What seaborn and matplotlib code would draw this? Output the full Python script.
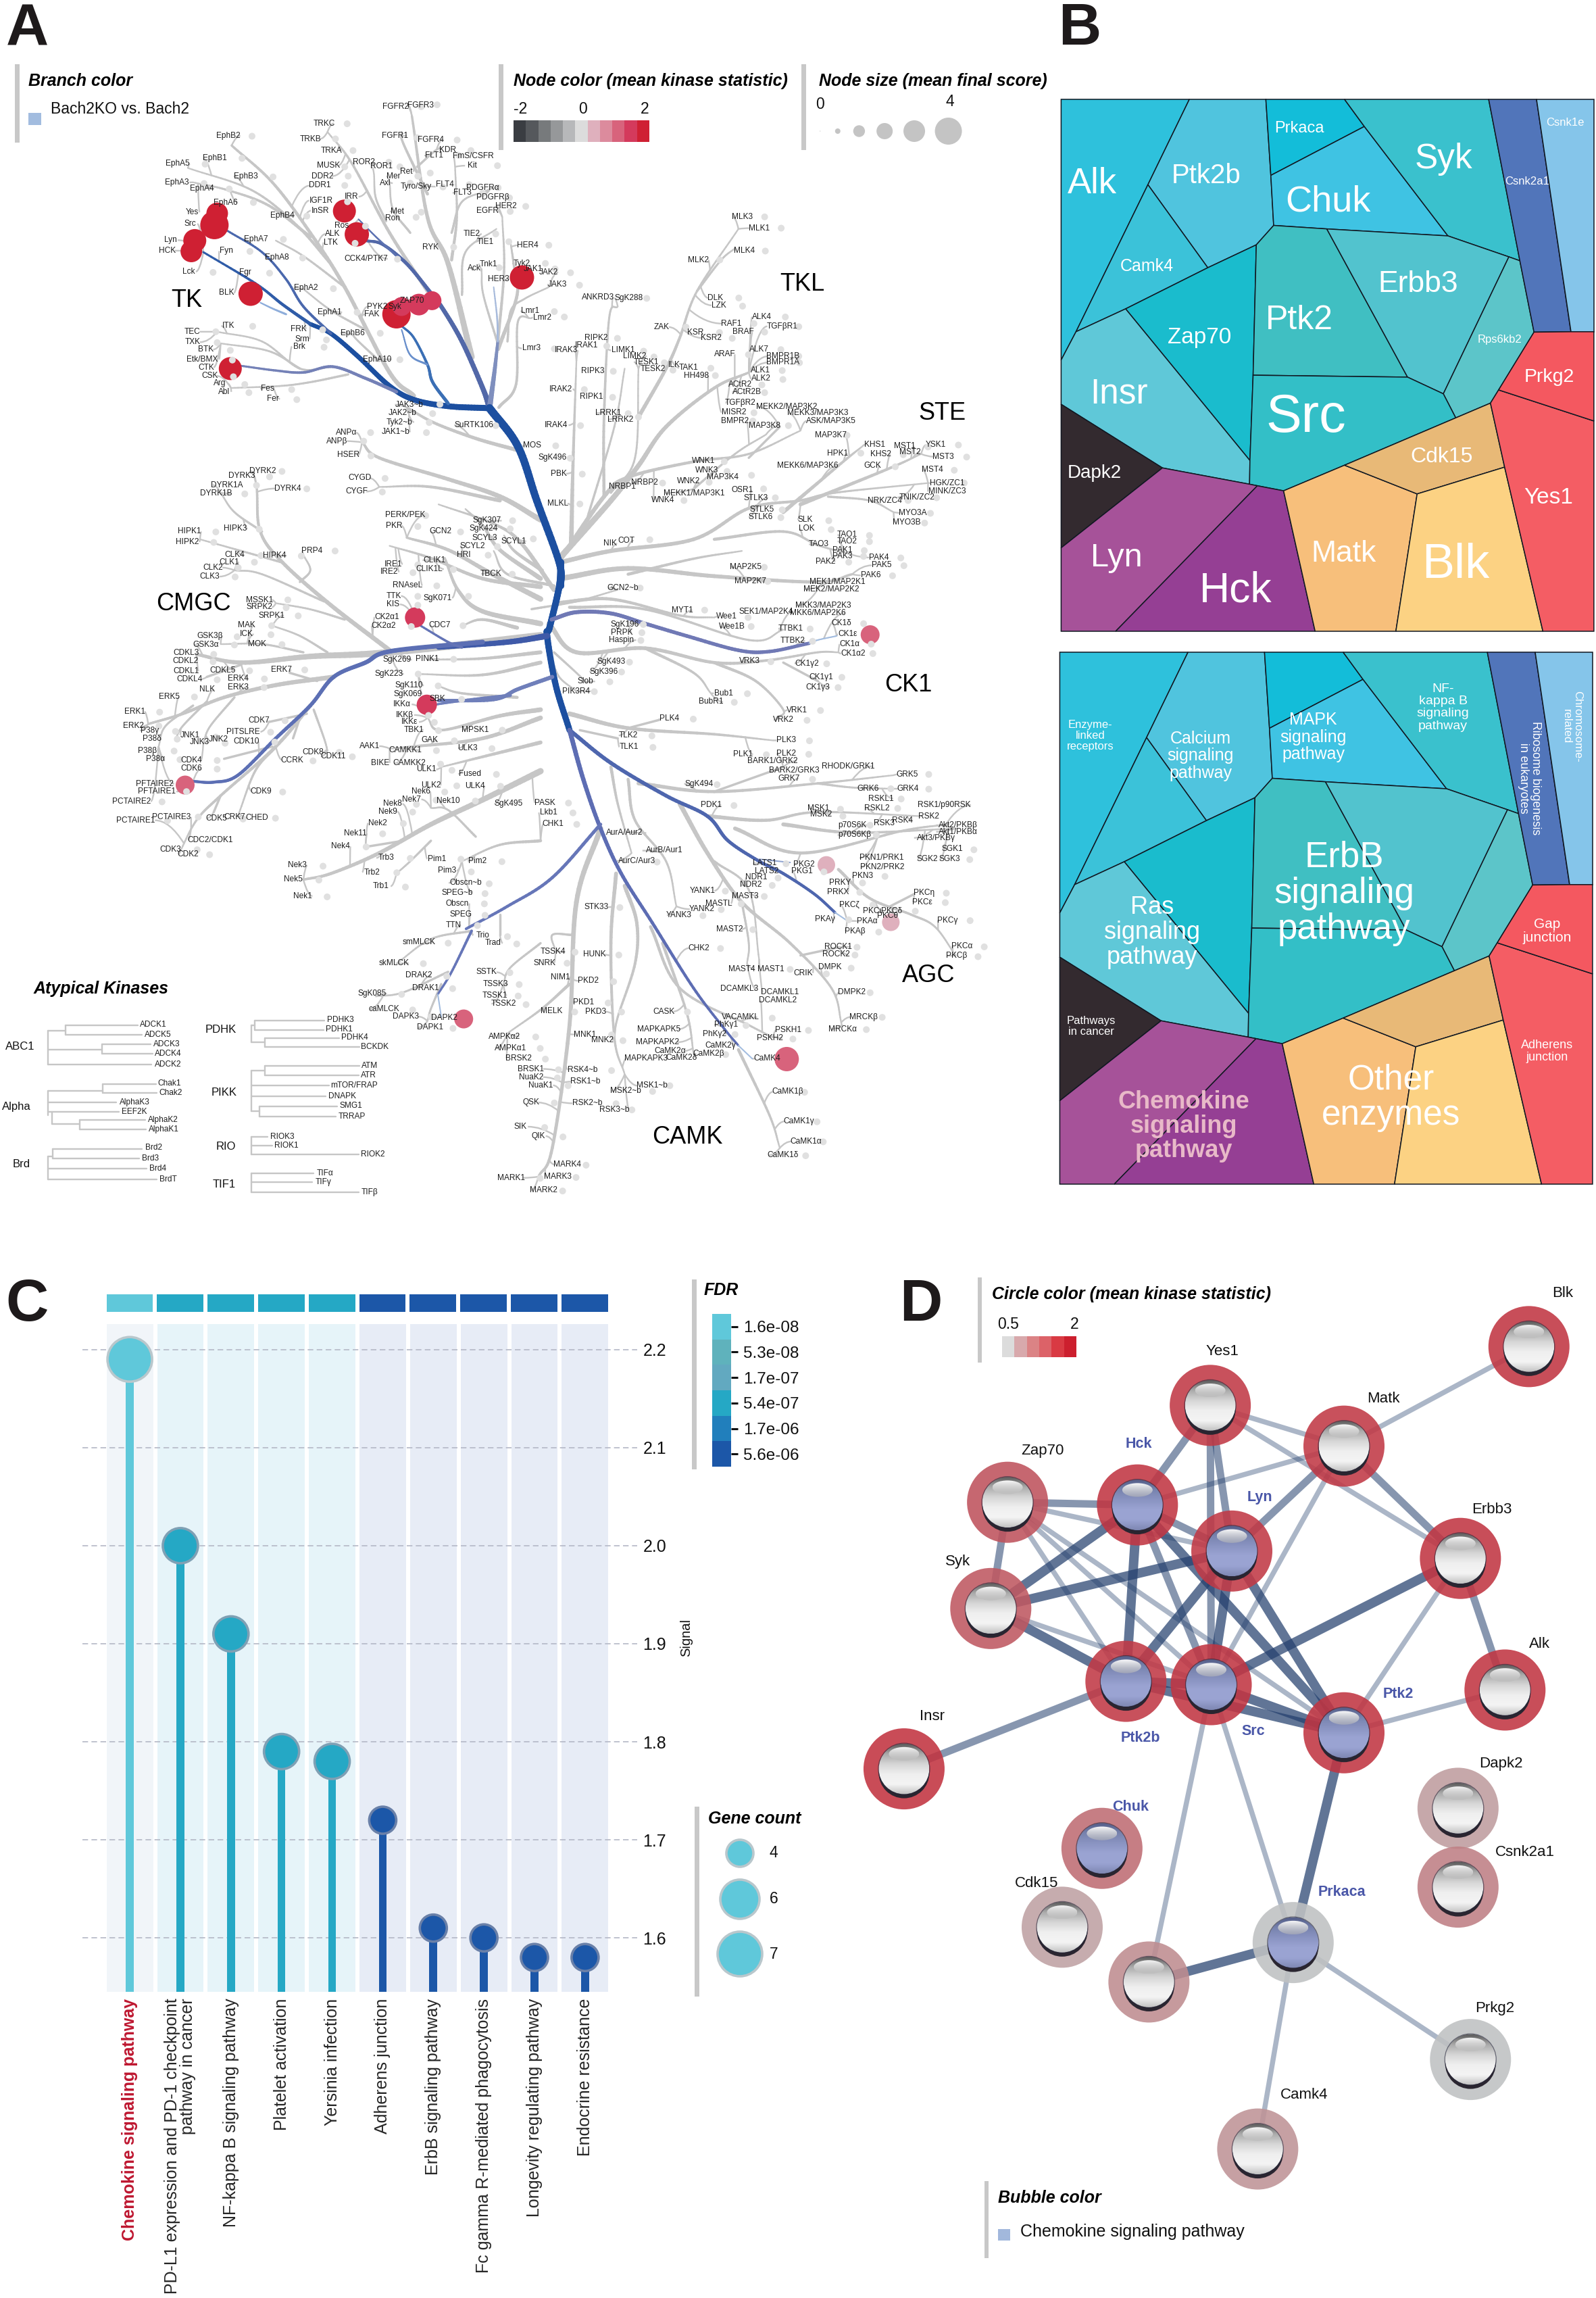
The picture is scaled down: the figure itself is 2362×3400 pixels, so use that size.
import numpy as np
import pandas as pd
import seaborn as sns
from matplotlib import pyplot as plt
from matplotlib.collections import LineCollection
from matplotlib.colors import ListedColormap, LinearSegmentedColormap
from matplotlib.patches import Circle, Ellipse, PathPatch, Rectangle
from matplotlib.path import Path

W, H = 2362, 3400

FRAMES = {"a": (0, 0, 1.96, 1.742), "b": (700, 0, 1.96, 1.742),
          "c": (0, 850, 1.96, 1.65), "d": (700, 850, 1.96, 1.65)}

KIN_A = [("FGFR2",1148,276,1222,275),("FGFR3",1220,272,1268,270),("TRKC",940,318,1007,319),("TRKB",900,358,973,358),
 ("TRKA",961,388,1024,388),("MUSK",952,427,1000,430),("DDR2",935,454,1010,454),("DDR1",928,478,1000,478),
 ("EphB2",662,350,731,351),("EphB1",624,408,702,408),("EphA5",516,422,595,423),("EphB3",713,454,792,456),
 ("EphA3",514,470,592,473),("EphA4",585,486,665,487),("EphA6",654,522,735,522),("EphB4",820,555,890,557),
 ("Yes",558,547),("Src",551,577),("Lyn",494,619),("HCK",486,646),("Fyn",657,647,725,648),("EphA7",743,617,822,617),
 ("EphA8",804,664,878,665),("Lck",547,700,618,702),("Fgr",712,702,782,704),("BLK",657,755),("EphA2",887,742,967,744),
 ("EphA1",957,805,1036,805),("ITK",663,840,733,841),("TEC",558,855,626,855),("TXK",559,882,630,883),("BTK",597,901,668,903),
 ("Etk/BMX",586,926,674,928),("CTK",598,947),("CSK",608,969,677,971),("FRK",867,848,936,850),("Srm",877,874,947,876),
 ("Brk",868,893,940,895),("EphB6",1023,858,1103,859),("EphA10",1093,926,1160,927),("Arg",638,988,710,991),("Abl",650,1010,722,1012),
 ("Fes",776,1002,846,1004),("Fer",791,1028,861,1030),("FGFR1",1145,350,1210,355),("FGFR4",1249,360,1326,361),("KDR",1298,387,1366,388),
 ("FLT1",1259,401,1330,400),("FmS/CSFR",1372,403),("Kit",1370,427,1443,427),("ROR2",1055,418,1128,418),("ROR1",1107,429,1160,430),
 ("Ret",1178,443,1248,446),("Mer",1142,454,1212,454),("Axl",1118,472,1190,472),("Tyro/Sky",1207,481,1285,482),("FLT4",1291,475,1361,476),
 ("FLT3",1341,497,1400,498),("PDGFRα",1400,484,1445,484),("PDGFRβ",1430,508,1478,510),("EGFR",1415,543,1480,545),("HER2",1468,532,1525,532),
 ("IGF1R",932,517),("InSR",930,543),("IRR",1019,507,1008,520),("Met",1152,545,1222,547),("Ron",1138,562,1207,560),("Ros",990,582,1060,583),
 ("ALK",965,603),("LTK",960,625,1030,627),("CCK4/PTK7",1061,667,1153,668),("RYK",1249,637,1316,637),("TIE2",1369,603,1438,603),
 ("TIE1",1408,623,1476,623),("Ack",1376,692,1448,690),("Tnk1",1416,681),("PYK2",1095,790),("Syk",1145,790),("ZAP70",1195,775),("FAK",1079,810),
 ("JAK3~b",1188,1043,1276,1042),("JAK2~b",1168,1065,1255,1066),("Tyk2~b",1159,1088,1245,1089),("JAK1~b",1147,1114,1237,1115),
 ("SuRTK106",1374,1096,1438,1097),("ANPα",1005,1115,1075,1115),("ANPβ",978,1137,1055,1137),("HSER",1010,1173,1076,1175),("CYGD",1043,1232,1117,1233),
 ("CYGF",1034,1267,1109,1268),("DYRK2",763,1214,818,1215),("DYRK3",702,1227,782,1229),("DYRK1A",659,1250,744,1251),("DYRK1B",627,1272,710,1273),
 ("DYRK4",834,1259,890,1260),("HIPK1",549,1370,626,1371),("HIPK3",683,1363,752,1364),("HIPK2",543,1397,620,1398),("CLK4",680,1431,757,1432),
 ("HIPK4",796,1432,874,1433),("PRP4",904,1420,972,1420),("CLK1",665,1449,738,1449),("CLK2",617,1463,691,1463),("CLK3",609,1486,682,1487),
 ("PERK/PEK",1175,1328,1235,1329),("PKR",1143,1355,1212,1357),("GCN2",1277,1370,1336,1371),("SgK307",1413,1342,1487,1342),("SgK424",1402,1362,1480,1363),
 ("SCYL3",1405,1386),("SCYL2",1370,1407,1443,1409),("SCYL1",1491,1395,1547,1389),("HRI",1346,1430,1416,1431),("IRE1",1140,1454,1212,1456),
 ("IRE2",1130,1474,1198,1476),("CLIK1",1261,1444),("CLIK1L",1245,1467,1315,1468),("TBCK",1424,1479,1486,1480),("RNAseL",1183,1509,1267,1510),
 ("TTK",1142,1536,1212,1537),("SgK071",1269,1541,1359,1537)]

KIN_B = [("HER4",158,632,220,632),("Tyk2",142,679,210,679),("JAK1",175,693,238,693),("JAK2",219,702,283,703),("JAK3",244,733,309,735),("HER3",74,719),
 ("MOS",171,1148,240,1149),("SgK496",230,1180,282,1181),("PBK",249,1221,317,1222),("MLKL",246,1298,310,1299),("ANKRD3",363,767),("SgK288",452,768,504,769),
 ("Lmr1",166,802,236,803),("Lmr2",202,818,265,817),("Lmr3",170,898,236,899),("RIPK2",358,871,419,872),("IRAK3",270,903),("IRAK1",329,890,388,892),
 ("LIMK1",436,903,495,905),("LIMK2",469,918,525,920),("TESK1",502,933,555,935),("TESK2",523,952,580,954),("ILK",584,941),("TAK1",626,948,690,949),
 ("HH498",647,968,703,968),("MLK3",782,559,846,559),("MLK1",831,588,894,588),("MLK4",787,646,848,647),("MLK2",654,670,716,670),("DLK",703,768,771,768),
 ("LZK",713,787,782,789),("ALK4",838,817,906,817),("RAF1",750,834,815,834),("TGFβR1",896,841,945,842),("ZAK",547,843,618,843),("KSR",646,857,715,857),
 ("BRAF",783,856,846,856),("KSR2",691,871,752,872),("ALK7",830,900,893,901),("ARAF",731,913,799,914),("BMPR1B",899,918,945,918),("BMPR1A",899,934,947,935),
 ("ALK1",833,954,897,955),("ALK2",836,976,899,978),("ACtR2",776,991,838,992),("ACtR2B",794,1011,846,1012),("RIPK3",348,956,407,957),("IRAK2",254,1003,323,1004),
 ("RIPK1",343,1023,405,1024),("TGFβR2",775,1039),("MISR2",757,1063,815,1064),("MEKK2/MAP3K2",909,1048),("MEKK3/MAP3K3",1000,1065),("LRRK1",392,1065,450,1066),
 ("LRRK2",428,1081,480,1075),("BMPR2",759,1085,812,1085),("ASK/MAP3K5",1038,1085),("MAP3K8",846,1097,915,1097),("IRAK4",242,1096,312,1097),("MAP3K7",1037,1121,1085,1122),
 ("KHS1",1165,1146),("MST1",1252,1150,1320,1152),("YSK1",1342,1147,1408,1147),("KHS2",1183,1170,1248,1172),("HPK1",1058,1169,1125,1168),("MST2",1268,1166),
 ("MST3",1364,1177,1432,1178),("GCK",1158,1201,1225,1203),("MEKK6/MAP3K6",971,1201),("WNK1",669,1188,729,1190),("WNK3",678,1213,737,1215),("MST4",1332,1210,1396,1212),
 ("MAP3K4",724,1229,808,1225),("HGK/ZC1",1376,1245,1425,1245),("WNK2",626,1241,685,1243),("NRBP2",498,1244,550,1245),("MINK/ZC3",1376,1267),("NRBP1",434,1255),
 ("OSR1",781,1263,843,1260),("STLK3",821,1283,877,1283),("TNIK/ZC2",1288,1282,1345,1283),("NRK/ZC4",1195,1290,1262,1290),("WNK4",552,1289,612,1290),("MEKK1/MAP3K1",642,1271),
 ("STLK5",839,1313,897,1314),("MYO3A",1275,1322,1327,1323),("STLK6",835,1332,893,1334),("MYO3B",1258,1347,1310,1348),("SLK",963,1340,1032,1342),("LOK",968,1363,1039,1365),
 ("NIK",397,1401),("COT",445,1393,513,1391),("TAO1",1086,1378,1150,1380),("TAO2",1086,1395,1150,1396),("TAO3",1003,1403),("PAK1",1072,1418,1135,1419),
 ("PAK3",1072,1433,1133,1434),("PAK2",1023,1447,1090,1449),("PAK4",1178,1437,1241,1438),("MAP2K5",791,1461,845,1462),("PAK5",1185,1457,1250,1458),("PAK6",1153,1483,1217,1484)]

KIN_C = [("KIS",1139,73,1212,75),("MSSK1",753,62,835,62),("SRPK2",753,80,830,81),("SRPK1",788,100,865,101),("MAK",716,124,788,125),("ICK",715,146,786,147),
 ("GSK3β",608,150,688,152),("GSK3α",598,171,680,172),("MOK",745,170,818,171),("CDKL3",540,192,620,195),("CDKL2",538,212,618,213),("CDKL1",541,236),("CDKL5",645,234,724,235),
 ("CDKL4",550,255,630,257),("ERK7",816,232,884,233),("ERK4",691,254,767,255),("ERK3",690,275,766,276),("NLK",600,281),("ERK5",491,299,564,299),("ERK1",391,335,463,336),
 ("ERK2",388,370,461,370),("P38γ",434,381,509,383),("P38δ",440,401,514,402),("JNK1",551,392,626,397),("CDK7",752,357,827,357),("PITSLRE",706,384,785,385),("JNK3",579,409,653,412),
 ("JNK2",634,402),("CDK10",714,408,797,409),("P38β",428,430,505,431),("P38α",450,451,522,452),("CDK4",555,453,630,454),("CDK6",556,474,630,475),("CCRK",847,453,908,455),
 ("CDK8",908,434,984,434),("CDK11",966,444,1022,445),("PFTAIRE2",449,511),("PFTAIRE1",455,530,541,530),("CDK9",758,529,820,531),("PCTAIRE2",381,554,470,555),("PCTAIRE1",393,600,486,601),
 ("PCTAIRE3",498,592,575,592),("CDK5",628,595,705,597),("CRK7",680,592),("CHED",745,594,799,595),("CDC2/CDK1",609,648),("CDK3",495,671,572,672),("CDK2",546,683,608,684),
 ("CK2α1",1122,104),("CK2α2",1113,125,1193,127),("CDC7",1276,124,1343,125),("SgK269",1152,208),("PINK1",1239,206,1316,207),("SgK223",1129,243,1213,243),("SgK110",1187,271,1271,272),
 ("SgK069",1183,292),("SBK",1269,303,1339,305),("IKKα",1166,317),("IKKβ",1173,343,1243,344),("IKKε",1187,360,1260,361),("TBK1",1200,379,1272,381),("MPSK1",1378,379,1457,380),
 ("GAK",1247,405,1318,406),("ULK3",1357,424,1427,425),("AAK1",1072,419),("CAMKK1",1175,429,1266,430),("BIKE",1102,460),("CAMKK2",1187,461,1278,463),("ULK1",1237,476,1311,478),
 ("Fused",1364,487,1440,488),("ULK2",1250,515,1325,516),("ULK4",1378,516,1452,517),("Nek6",1220,530,1290,531),("Nek7",1194,549,1265,551),("Nek10",1299,552,1379,553),("Nek8",1139,560,1208,561),
 ("Nek9",1124,579,1197,580),("Nek2",1096,607,1170,608),("Nek11",1030,632,1110,633),("Nek4",988,664,1062,665),("Trb3",1120,692,1190,693),("Pim1",1268,694,1337,695),("Pim2",1385,699,1456,701),
 ("Trb2",1079,727,1151,728),("Pim3",1297,723,1367,726),("Nek3",863,710,937,712),("Nek5",850,744,925,746),("Trb1",1105,761,1176,763),("Obscn~b",1351,753,1419,755),("Nek1",878,785,949,787),
 ("SPEG~b",1327,777,1407,779),("Obscn",1326,803,1405,804),("SPEG",1336,830,1407,832),("TTN",1316,856,1385,857),("Trio",1401,881,1472,884),("Trad",1430,900,1499,902),("smMLCK",1215,898,1300,900),
 ("skMLCK",1143,949,1228,950),("DRAK2",1215,979,1296,981),("DRAK1",1234,1010,1313,1011),("SgK085",1080,1023,1165,1025),("caMLCK",1114,1061,1197,1063),("DAPK3",1177,1079,1250,1080),
 ("DAPK2",1289,1082),("DAPK1",1247,1106,1314,1108)]

KIN_D = [("GCN2~b",434,33,485,33),("MAP2K7",804,17,855,17),("MEK1/MAP2K1",1058,18),("MEK2/MAP2K2",1040,36),("MYT1",608,87,672,87),("MKK3/MAP2K3",1016,76),("SEK1/MAP2K4",850,91),
 ("MKK6/MAP2K6",1000,94),("Wee1",736,103,798,105),("Wee1B",751,127,807,127),("SgK196",441,122,494,122),("PRPK",432,142,490,142),("Haspin",431,160,487,161),("TTBK1",921,132,978,133),
 ("CK1δ",1069,119,1133,120),("CK1ε",1087,146),("TTBK2",928,162,985,163),("CK1α",1092,170,1155,170),("CK1α2",1103,193,1160,193),("SgK493",401,213,454,214),("VRK3",802,212,864,213),
 ("CK1γ2",968,217,1026,218),("SgK396",380,237,431,238),("CK1γ1",1010,251,1070,251),("Slob",326,261,397,262),("CK1γ3",1000,275,1059,276),("PIK3R4",300,285,352,286),("Bub1",727,290,796,291),
 ("BubR1",690,311,758,312),("VRK1",940,331,1008,332),("PLK4",570,352,639,353),("VRK2",900,355,969,356),("TLK2",451,393,519,394),("TLK1",453,421,522,422),("PLK3",909,405,976,406),
 ("PLK1",784,439,851,440),("PLK2",909,438,974,439),("BARK1/GRK2",869,455),("BARK2/GRK3",932,478),("RHODK/GRK1",1088,468),("GRK7",916,498,985,500),("GRK5",1260,488,1322,488),("SgK494",655,511,708,513),
 ("GRK6",1146,523,1212,523),("GRK4",1261,523,1322,524),("RSKL1",1183,547,1242,548),("PDK1",692,563,757,564),("RSK1/p90RSK",1367,563),("RSKL2",1172,571,1232,571),("MSK1",1001,571,1066,573),
 ("MSK2",1010,586,1073,590),("RSK3",1192,607),("RSK4",1246,600),("RSK2",1322,591),("SgK495",104,560),("PASK",208,557,277,558),("Lkb1",219,581,290,582),("CHK1",232,609,301,610),("p70S6K",1100,612,1152,612),
 ("p70S6Kβ",1107,636,1170,636),("Akt2/PKBβ",1407,612),("Akt1/PKBα",1407,628),("Akt3/PKBγ",1343,643),("AurA/Aur2",439,631),("AurB/Aur1",555,674),("SGK1",1390,670,1453,672),("AurC/Aur3",475,700,534,702),
 ("PKN1/PRK1",1185,692),("SGK2",1318,694),("SGK3",1382,695,1441,696),("LATS1",847,705,908,706),("PKG2",960,708),("PKN2/PRK2",1188,714),("PKG1",955,725,1018,726),("LATS2",852,725),("NDR1",821,740,885,741),
 ("PKN3",1130,736,1195,737),("NDR2",806,758,868,759),("PRKY",1065,752,1130,753),("PRKX",1059,775,1122,776),("YANK1",665,772,732,773),("MAST3",790,785,845,786),("PKCη",1308,777,1373,778),("MASTL",713,803,778,804),
 ("PKCε",1304,800,1370,801),("PKCζ",1092,806,1160,807),("PKCι",1157,821),("PKCδ",1215,821,1283,822),("STK33",357,812,426,813),("YANK2",664,817,720,818),("YANK3",598,832,667,833),("PKCθ",1203,833),("PKAγ",1021,842,1090,843),
 ("PKAα",1143,846),("PKCγ",1377,844,1442,845),("MAST2",744,866,812,867),("PKAβ",1108,871,1177,873),("CHK2",655,912,718,913),("ROCK1",1060,909,1114,910),("PKCα",1419,907,1483,909),("ROCK2",1053,928,1108,929),
 ("PKCβ",1402,931,1465,933),("TSSK4",232,921,296,922),("HUNK",353,928,423,929),("SNRK",207,948,273,949),("MAST4",779,963),("MAST1",864,963,920,964),("DMPK",1035,959,1097,961),("CRIK",958,973,1025,975),
 ("SSTK",40,971,107,972),("TSSK3",66,1000,134,1001),("TSSK1",63,1028,131,1029),("TSSK2",89,1048,154,1050),("NIM1",254,983),("PKD2",334,992,408,994),("DCAMKL3",772,1012),("DCAMKL1",891,1020),("DCAMKL2",884,1040),("DMPK2",1098,1020,1152,1021),
 ("PKD1",320,1045,392,1046),("PKD3",355,1067,431,1068),("MELK",227,1066,295,1068),("CASK",553,1067,622,1068),("VACAMKL",775,1081,868,1083),("MRCKβ",1132,1080,1187,1081),("PhKγ1",735,1099,792,1101),("MAPKAPK5",540,1110),
 ("PSKH1",915,1112,973,1113),("MRCKα",1073,1110,1141,1111),("MNK1",325,1123,402,1124),("PhKγ2",700,1122,760,1123),("AMPKα2",92,1128,182,1129),("PSKH2",862,1132,928,1134),("MNK2",375,1137,435,1138),("MAPKAPK2",536,1142),
 ("AMPKα1",109,1156,195,1157),("CaMK2γ",717,1150),("CaMK2α",572,1163),("CaMK2β",683,1170,733,1172),("CaMK2δ",604,1179),("MAPKAPK3",502,1181),("BRSK2",132,1181,210,1183),("CaMK4",854,1182),("BRSK1",168,1207,248,1209),
 ("RSK4~b",318,1209,402,1211),("NuaK2",168,1227,245,1229),("RSK1~b",326,1238),("NuaK1",197,1247,276,1248),("MSK1~b",520,1248,571,1248),("MSK2~b",443,1261,521,1262),("CaMK1β",912,1263,962,1264),("QSK",168,1289,236,1290),
 ("RSK2~b",331,1291,415,1292),("RSK3~b",411,1307,461,1307),("CaMK1γ",946,1335,998,1336),("SIK",138,1348,208,1350),("QIK",190,1371,261,1373),("CaMK1α",966,1384,1016,1385),("CaMK1δ",899,1418,965,1419),("MARK4",274,1441,328,1442),
 ("MARK3",245,1470,299,1472),("MARK1",110,1473,195,1474),("MARK2",204,1503,260,1505)]

GROUP_LABELS = [("a","TK",541,775),("c","CMGC",562,72),("b","TKL",955,733),("b","STE",1362,1065),("d","CK1",1262,269),("d","AGC",1322,980),("d","CAMK",622,1373)]

# frame, start width, end width, points
GREY_BRANCHES = [
 ("a",6,3,[(1200,1020),(1130,960),(1000,740),(900,600),(790,470),(672,375)]),
 ("a",4,2,[(960,680),(860,580),(730,490),(545,433)]),
 ("a",4,2,[(900,610),(780,530),(660,490),(560,470)]),
 ("a",3,2,[(1000,740),(880,660),(800,620)]),
 ("a",3,2,[(1060,850),(960,800),(880,745)]),
 ("a",3,2,[(1100,930),(1040,880),(1020,860)]),
 ("a",3,2,[(960,945),(870,950),(760,880),(630,855)]),
 ("a",3,2,[(870,950),(780,905),(640,885)]),
 ("a",3,2,[(1010,965),(900,985),(810,995),(670,1000)]),
 ("a",8,3,[(1368,920),(1300,680),(1240,560),(1195,300)]),
 ("a",5,2,[(1240,750),(1130,600),(1020,420),(950,340)]),
 ("a",3,2,[(1120,570),(1090,510),(1085,450)]),
 ("a",3,2,[(1190,600),(1140,540),(1130,470)]),
 ("a",4,2,[(1310,670),(1325,560),(1320,430)]),
 ("a",4,2,[(1240,500),(1170,370),(1165,340)]),
 ("a",3,2,[(1210,430),(1260,390),(1280,380)]),
 ("a",3,2,[(1340,760),(1350,650),(1440,590)]),
 ("a",3,2,[(1310,600),(1340,520),(1420,490)]),
 ("a",5,2,[(1445,900),(1500,760),(1490,680),(1480,620)]),
 ("b",4,2,[(70,900),(90,700),(85,560)]),
 ("b",3,2,[(70,880),(30,760),(25,700)]),
 ("b",4,2,[(75,1050),(125,990),(130,830),(170,820)]),
 ("b",3,2,[(100,880),(110,800),(150,770),(220,740)]),
 ("a",5,3,[(1500,1160),(1380,1130),(1260,1090),(1180,1050)]),
 ("a",7,3,[(1568,1340),(1450,1280),(1300,1235),(1100,1180),(1050,1140)]),
 ("a",5,2,[(1450,1290),(1250,1255),(1100,1255)]),
 ("a",6,3,[(1130,1676),(960,1560),(820,1450),(755,1370),(745,1260)]),
 ("a",3,2,[(760,1370),(680,1320),(640,1270)]),
 ("a",3,2,[(820,1450),(700,1420),(580,1390)]),
 ("a",3,2,[(940,1550),(760,1480),(680,1470)]),
 ("a",3,2,[(870,1500),(900,1470),(880,1430)]),
 ("c",10,4,[(1568,150),(1130,190),(900,200),(700,215),(570,195)]),
 ("c",3,2,[(1000,110),(900,85),(800,70)]),
 ("c",3,2,[(950,190),(870,150),(790,125)]),
 ("c",3,2,[(880,190),(760,170),(640,170)]),
 ("c",3,2,[(700,220),(600,250)]),
 ("c",6,3,[(968,250),(800,270),(650,300),(530,340),(430,365)]),
 ("c",3,2,[(920,260),(840,240)]),
 ("c",3,2,[(680,300),(610,370),(590,410)]),
 ("c",3,2,[(560,320),(480,370),(460,420)]),
 ("c",3,2,[(600,310),(530,370),(510,400)]),
 ("c",5,2,[(900,320),(800,420),(640,540),(570,600),(520,680)]),
 ("c",3,2,[(910,330),(940,400),(950,430)]),
 ("c",3,2,[(870,350),(850,400)]),
 ("c",4,2,[(800,420),(740,480),(690,590)]),
 ("c",3,2,[(640,540),(620,580)]),
 ("c",3,2,[(790,420),(650,450)]),
 ("c",3,2,[(890,340),(780,360)]),
 ("c",7,3,[(1568,60),(1430,0),(1300,-60),(1180,-90)]),
 ("c",7,3,[(1568,120),(1400,90),(1330,40),(1290,-40)]),
 ("c",5,2,[(1500,130),(1400,110),(1340,125)]),
 ("c",6,2,[(1568,10),(1450,-60),(1400,-120),(1350,-160)]),
 ("b",6,2,[(235,1520),(140,1400),(60,1350),(-100,1300)]),
 ("b",5,2,[(200,1470),(120,1420),(90,1380)]),
 ("b",4,2,[(235,1510),(100,1480),(60,1420)]),
 ("c",6,2,[(1568,30),(1400,10),(1250,-40),(1130,-70)]),
 ("c",5,2,[(1568,190),(1400,205),(1240,208)]),
 ("c",5,2,[(1568,215),(1400,245),(1213,243)]),
 ("c",4,2,[(1500,300),(1340,290),(1270,272)]),
 ("c",6,2,[(1568,330),(1450,345),(1280,380),(1240,350)]),
 ("c",6,2,[(1568,350),(1400,400),(1200,420),(1130,425)]),
 ("c",5,2,[(1568,410),(1400,445),(1280,470)]),
 ("c",8,3,[(1568,480),(1400,550),(1250,610),(1100,680),(960,730),(880,745)]),
 ("c",3,2,[(1170,650),(1060,665)]),
 ("c",3,2,[(1250,650),(1190,700),(1150,730)]),
 ("c",4,2,[(1568,650),(1450,660),(1340,700)]),
 ("c",3,2,[(1380,640),(1300,575),(1250,570)]),
 ("c",3,2,[(1368,870),(1250,890),(1150,950)]),
 ("c",3,2,[(1300,970),(1170,1020),(1090,1030)]),
 ("c",3,2,[(1280,1000),(1250,1060),(1240,1090)]),
 ("c",3,2,[(1450,830),(1450,880)]),
 ("c",3,2,[(1568,900),(1480,960),(1460,1000)]),
 ("b",6,2,[(250,1450),(400,1420),(640,1390),(800,1310),(950,1290),(1050,1270),(1320,1245)]),
 ("b",3,2,[(1030,1280),(1150,1290),(1220,1320)]),
 ("b",6,2,[(255,1440),(380,1280),(450,1230),(640,1190),(800,1170),(950,1110)]),
 ("b",8,3,[(260,1430),(400,1290),(480,1200),(560,1100),(700,1000),(800,960)]),
 ("b",5,2,[(480,1075),(560,950),(600,870),(650,750),(770,590)]),
 ("b",3,2,[(650,750),(720,670),(760,640)]),
 ("b",6,2,[(285,1400),(290,1200),(300,930)]),
 ("b",4,2,[(380,1280),(380,1080),(395,820),(420,790)]),
 ("b",3,2,[(330,1340),(410,1100),(440,950)]),
 ("b",3,2,[(400,1270),(470,1180),(480,950)]),
 ("b",3,2,[(640,1260),(760,1170),(850,1120)]),
 ("b",3,2,[(800,1180),(890,1100)]),
 ("b",5,2,[(900,1320),(1060,1200),(1130,1150)]),
 ("b",5,2,[(950,1300),(1200,1210),(1300,1170)]),
 ("b",4,2,[(700,1390),(900,1370),(1000,1405),(1100,1430)]),
 ("b",7,3,[(260,1490),(450,1465),(700,1485),(1000,1500),(1100,1480)]),
 ("b",4,2,[(450,1480),(640,1440),(780,1420)]),
 ("b",3,2,[(170,1570),(300,1550),(420,1520)]),
 ("d",5,2,[(240,70),(400,60),(600,100),(700,105)]),
 ("d",6,2,[(220,120),(300,190),(500,180),(700,215),(850,210),(1000,190),(1060,190)]),
 ("d",4,2,[(500,180),(640,240),(690,290)]),
 ("d",4,2,[(700,215),(820,260),(900,330),(880,350)]),
 ("d",3,2,[(900,215),(1000,260)]),
 ("d",4,2,[(280,80),(500,85),(800,160),(900,135)]),
 ("d",3,2,[(235,190),(300,240),(330,265)]),
 ("d",3,2,[(225,200),(250,250),(300,285)]),
 ("d",6,2,[(280,340),(450,375),(700,390),(870,405)]),
 ("d",3,2,[(450,375),(540,355)]),
 ("d",3,2,[(310,380),(420,400)]),
 ("d",5,2,[(480,510),(700,530),(1000,510),(1220,490)]),
 ("d",3,2,[(700,530),(900,470)]),
 ("d",3,2,[(1000,510),(1100,520),(1210,523)]),
 ("d",5,2,[(680,590),(850,600),(1000,580),(1300,590)]),
 ("d",5,2,[(900,610),(1100,630),(1400,620)]),
 ("d",5,2,[(760,620),(950,680),(1250,625),(1380,610)]),
 ("d",6,2,[(600,560),(680,680),(780,800),(920,900),(1040,1010),(1070,1100)]),
 ("d",3,2,[(700,700),(800,770),(830,940)]),
 ("d",3,2,[(780,800),(800,900),(795,950)]),
 ("d",3,2,[(950,930),(1060,910)]),
 ("d",4,2,[(1060,720),(1150,790),(1270,830),(1340,860),(1400,930)]),
 ("d",3,2,[(1210,810),(1280,780)]),
 ("d",4,2,[(400,470),(420,560),(460,680)]),
 ("d",4,2,[(450,500),(470,600),(560,700),(590,810)]),
 ("d",7,3,[(370,620),(300,800),(280,1100),(230,1400),(190,1470)]),
 ("d",4,2,[(280,1000),(200,1060),(100,1120)]),
 ("d",3,2,[(290,880),(230,880),(240,920)]),
 ("d",5,2,[(415,730),(400,900),(410,1130),(440,1220)]),
 ("d",5,2,[(440,760),(475,850),(470,950),(420,1080),(410,1130)]),
 ("d",4,2,[(515,860),(600,1010),(800,1100),(870,1130)]),
 ("d",4,2,[(550,900),(620,1070),(640,1170)]),
 ("d",4,2,[(770,1160),(860,1320),(890,1400)]),
]

# frame, start width, end width, colour, points
BLUE_BRANCHES = [
 ("a",9,6,"#1C4FA0",[(1420,1052),(1300,1047),(1200,1030),(1130,995),(1040,920),(960,860),(900,835)]),
 ("a",5,3,"#2F5CA8",[(900,835),(820,785),(740,730),(590,650)]),
 ("a",4,3,"#4A68AD",[(960,860),(880,790),(830,720),(760,650),(660,595)]),
 ("a",3,2,"#8FAEDB",[(830,810),(790,795),(755,780)]),
 ("a",5,3,"#7481B7",[(1150,1010),(1060,975),(965,945),(880,960),(800,955),(700,943)]),
 ("a",8,4,"#5268A8",[(1420,1052),(1400,1000),(1340,880),(1280,790),(1245,750),(1180,680),(1110,630),(1060,620)]),
 ("a",3,2,"#5C72B2",[(1150,660),(1090,610),(1040,565)]),
 ("a",5,3,"#3B6FB5",[(1300,1040),(1255,985),(1240,940),(1200,870),(1165,840)]),
 ("a",3,2,"#6A90CC",[(1240,940),(1190,915),(1165,850)]),
 ("b",8,4,"#7F8FBE",[(48,1052),(62,960),(72,880)]),
 ("b",3,2,"#A8BBDC",[(72,880),(70,820),(60,740)]),
 ("b",12,10,"#1C4FA0",[(48,1052),(130,1150),(185,1290),(250,1450),(255,1510)]),
 ("d",10,9,"#1C4FA0",[(255,-30),(250,30),(222,130),(215,150),(240,270),(280,380)]),
 ("d",6,5,"#7079B5",[(228,110),(300,92),(400,95),(500,120),(620,150),(770,185),(860,188),(975,168)]),
 ("d",2,2,"#A2BCDF",[(975,168),(1000,160),(1055,150)]),
 ("d",9,7,"#3F5AA8",[(215,150),(100,165),(-100,178)]),
 ("c",7,4,"#5C6FB4",[(1400,165),(1135,187),(1060,215),(968,250),(900,320),(800,400),(690,490),(620,507),(560,505)]),
 ("c",4,3,"#6474B6",[(1340,178),(1300,165),(1210,120)]),
 ("d",6,5,"#6F7FBA",[(230,250),(130,280),(60,305),(-100,308)]),
 ("c",5,3,"#6F7FBA",[(1480,295),(1340,308),(1260,318)]),
 ("d",6,4,"#4E66AE",[(280,380),(400,460),(560,540),(680,590),(740,650),(830,700),(900,730),(990,780),(1050,825)]),
 ("d",2,2,"#A2BCDF",[(1050,825),(1085,845)]),
 ("d",2,2,"#8FA3D0",[(830,695),(920,703)]),
 ("d",7,3,"#5D6DB3",[(280,380),(320,500),(370,620),(430,730),(520,850),(640,1010),(730,1110),(770,1150)]),
 ("d",2,2,"#A2BCDF",[(770,1150),(810,1182)]),
 ("d",5,4,"#6676B8",[(370,610),(230,740),(100,810),(-20,865)]),
 ("c",4,3,"#6676B8",[(1368,870),(1310,970),(1270,1025)]),
 ("c",2,2,"#A2BCDF",[(1270,1025),(1280,1080)]),
]

# frame, x, y, node radius, mean kinase statistic
RED_NODES = [("a",630,550,16,2.0),("a",622,580,21,2.0),("a",565,620,17,2.0),("a",555,648,16,2.0),("a",727,757,18,2.0),("a",668,950,17,2.0),
 ("a",999,544,17,2.0),("a",1035,604,18,2.0),("a",1150,810,21,2.0),("a",1165,790,14,1.8),("a",1215,785,16,1.8),("a",1253,775,14,1.7),
 ("b",142,715,18,2.0),("c",1204,105,15,1.5),("c",1238,318,15,1.6),("c",537,514,14,1.1),("c",1345,1085,14,1.3),
 ("d",1152,147,14,1.1),("d",1025,709,13,0.5),("d",1212,849,13,0.5),("d",910,1183,18,1.2)]

NODE_PALETTE = ["#3A3D42","#55585C","#777A7C","#96989A","#B7B8BA","#DCDCDC","#DFB0BD","#DC8B9D","#D8637C","#D43A5C","#CF2033"]
NODE_TICKS = [(137,"-2"),(319,"0"),(498,"2")]
NODE_SIZE_X = [1007,1058,1120,1194,1280,1379]
NODE_SIZE_R = [0.6,4,8.7,12,16,20]

ATYP_LABELS = [("ADCK1",445,1099),("ADCK5",458,1123),("ADCK3",484,1146),("ADCK4",488,1170),("ADCK2",487,1196),("Chak1",492,1242),("Chak2",496,1265),
 ("AlphaK3",390,1288),("EEF2K",389,1312),("AlphaK2",474,1331),("AlphaK1",475,1355),("Brd2",446,1400),("Brd3",436,1425),("Brd4",457,1451),("BrdT",488,1476),
 ("PDHK3",987,1088),("PDHK1",984,1110),("PDHK4",1028,1131),("BCKDK",1087,1154),("ATM",1073,1199),("ATR",1069,1222),("mTOR/FRAP",1028,1247),("DNAPK",992,1273),
 ("SMG1",1017,1297),("TRRAP",1021,1324),("RIOK3",818,1372),("RIOK1",830,1395),("RIOK2",1081,1416),("TIFα",942,1462),("TIFγ",938,1483),("TIFβ",1073,1508)]
ATYP_GROUPS = [("ABC1",58,1152),("Alpha",47,1300),("Brd",63,1440),("PDHK",641,1112),("PIKK",650,1265),("RIO",655,1397),("TIF1",650,1489)]
# each: vertical x, y0, y1 then leaves (y, x_end) hanging from it
ATYP_TREE = [(140,1113,1196,[(1113,190),(1160,295),(1196,440)]),(190,1100,1123,[(1100,400),(1123,412)]),(295,1147,1170,[(1147,438),(1170,442)]),
 (140,1260,1320,[(1260,297),(1288,338),(1312,345)]),(297,1244,1266,[(1244,452),(1266,455)]),(150,1312,1342,[(1342,232)]),(232,1331,1355,[(1331,422),(1355,423)]),
 (140,1420,1476,[(1420,152),(1451,425),(1476,455)]),(152,1402,1425,[(1402,412),(1425,404)]),
 (730,1100,1142,[(1100,738),(1142,768)]),(738,1089,1112,[(1089,940),(1112,938)]),(768,1132,1154,[(1132,984),(1154,1042)]),
 (730,1211,1310,[(1211,768),(1247,955),(1273,945),(1310,752)]),(768,1200,1222,[(1200,1042),(1222,1040)]),(752,1298,1324,[(1298,978),(1324,975)]),
 (730,1372,1416,[(1372,776),(1395,790),(1416,1040)]),(730,1462,1508,[(1462,910),(1483,906),(1508,1040)])]

# ---- panel B: voronoi treemap vertices
VX = dict(a=(420,256),b=(636,256),c=(858,256),d=(1265,256),e=(1400,256),f=(303,476),g=(472,690),h=(609,631),i=(658,581),j=(650,452),k=(914,326),
 l=(1150,608),m=(808,590),n=(1322,662),o=(1353,672),p=(1393,856),q=(1497,855),r=(1137,1015),s=(1036,972),t=(600,967),u=(591,1187),v=(590,1248),
 w=(240,796),x=(100,855),y=(58,928),z=(58,1042),aa=(344,1206),ab=(58,1412),ac=(612,1252),ad=(686,1265),ae=(858,1199),af=(1172,1077),ag=(1270,1039),
 ah=(1293,1005),ai=(1562,1085),aj=(1310,1204),ak=(1063,1273),tl=(58,256),tr=(1562,256),rq=(1562,855),bl=(58,1627),b1=(212,1627),b2=(775,1627),b3=(1003,1627),b4=(1418,1627),br=(1562,1627))
CELLS = [("Alk","tl a f x y","#2EC1DC"),("Ptk2b","a b j i h g f","#50C4DE"),("Prkaca","b c k j","#13BDD9"),("Chuk","j k l m i","#3FC3E3"),("Syk","c d o n l k","#3AC1CD"),
 ("Camk4","f g w x","#3BC2D9"),("Zap70","w g h t u","#1ABCCD"),("Ptk2","h i m s t","#40BFC2"),("Erbb3","m l n r s","#52C3CE"),("Rps6kb2","n o p ah ag af r","#5CC5C9"),
 ("Csnk2a1","d e q p o","#5175BA"),("Csnk1e","e tr rq q","#85C5EA"),("Insr","x w u v aa z y","#5FC8D8"),("Src","t s r af ae ad v u","#33BFC7"),("Dapk2","z aa ab","#332A2F"),
 ("Lyn","ab aa v ac b1 bl","#A65299"),("Hck","ac ad b2 b1","#953F94"),("Matk","ad ae ak b3 b2","#F7BF7B"),("Cdk15","ae af ag aj ak","#E8B977"),("Blk","ak aj b4 b3","#FCD283"),
 ("Yes1","ag ah ai br b4 aj","#F45D64"),("Prkg2","p q rq ai ah","#F45860")]
GENE_LABELS = [("Alk",145,465,38),("Ptk2b",467,447,29),("Prkaca",730,328,17),("Chuk",812,512,39),("Syk",1138,402,37),("Camk4",300,682,18),("Zap70",449,865,24),("Ptk2",730,817,36),
 ("Erbb3",1066,725,32),("Rps6kb2",1296,873,12),("Csnk2a1",1373,465,12),("Csnk1e",1481,314,12),("Insr",222,1008,37),("Src",750,1065,57),("Dapk2",152,1215,20),("Lyn",215,1430,35),
 ("Hck",550,1512,45),("Matk",855,1420,32),("Cdk15",1132,1172,23),("Blk",1172,1445,52),("Yes1",1433,1277,24),("Prkg2",1435,968,20.5)]
PATHWAY_LABELS = [("Enzyme-\nlinked\nreceptors",140,329,12,0),("Calcium\nsignaling\npathway",452,380,18,0),("MAPK\nsignaling\npathway",770,332,18,0),("NF-\nkappa B\nsignaling\npathway",1136,256,14,0),
 ("Ribosome biogenesis\nin eukaryotes",1380,438,12.7,-90),("Chromosome-\nrelated",1500,305,12,-90),("ErbB\nsignaling\npathway",857,735,38,0),("Ras\nsignaling\npathway",315,835,26,0),
 ("Pathways\nin cancer",143,1078,12,0),("Other\nenzymes",990,1262,37,0),("Gap\njunction",1430,832,15,0),("Adherens\njunction",1430,1142,13,0)]

# ---- panel C
PATHWAYS = ["Chemokine signaling pathway","PD-L1 expression and PD-1 checkpoint\npathway in cancer","NF-kappa B signaling pathway","Platelet activation","Yersinia infection",
            "Adherens junction","ErbB signaling pathway","Fc gamma R-mediated phagocytosis","Longevity regulating pathway","Endocrine resistance"]
SIGNAL = [2.19,2.00,1.91,1.79,1.78,1.72,1.61,1.60,1.58,1.58]
GENE_COUNT = [7,5,5,5,5,4,4,4,4,4]
FDR_LEVEL = [0,3,3,3,3,5,5,5,5,5]
FDR_LABELS = ["1.6e-08","5.3e-08","1.7e-07","5.4e-07","1.7e-06","5.6e-06"]
FDR_COLORS = ["#5FC8DA","#5FB2BC","#62A9C0","#25A8C5","#217FBC","#1C57A8"]
BAND_COLORS = {0:"#F1F5F9",3:"#E6F4F9",5:"#E7ECF6"}
Y_TICKS = [1.6,1.7,1.8,1.9,2.0,2.1,2.2]

# ---- panel D: node positions as read
D_NODES = [("Blk",1428,144,1.95,0),("Yes1",763,232,1.9,0),("Matk",1042,293,1.9,0),("Zap70",340,377,1.5,0),("Hck",611,381,1.95,1),("Lyn",808,450,1.9,1),("Erbb3",1285,461,1.95,0),
 ("Syk",305,536,1.45,0),("Ptk2b",587,645,1.9,1),("Src",765,650,1.95,1),("Ptk2",1042,722,1.95,1),("Alk",1378,658,1.95,0),("Insr",124,776,2.0,0),("Dapk2",1280,835,0.9,0),
 ("Csnk2a1",1280,953,1.15,0),("Chuk",537,895,1.3,1),("Cdk15",454,1013,0.85,0),("",635,1095,1.05,0),("Prkaca",936,1036,0.5,1),("Prkg2",1306,1211,0.5,0),("Camk4",862,1345,1.0,0)]
D_LABELS = [("Blk",1498,64),("Yes1",788,151),("Matk",1125,222),("Zap70",413,300),("Hck",614,290),("Lyn",866,370),("Erbb3",1350,388),("Syk",236,466),("Ptk2b",618,730),("Src",853,720),
 ("Ptk2",1155,664),("Alk",1450,589),("Insr",182,697),("Dapk2",1370,768),("Csnk2a1",1420,901),("Chuk",597,833),("Cdk15",401,947),("Prkaca",1038,961),("Prkg2",1356,1135),("Camk4",959,1264)]
D_EDGES = [("Syk","Zap70",2),("Syk","Hck",3),("Syk","Lyn",3),("Syk","Ptk2b",3),("Syk","Src",1),("Zap70","Hck",2),("Zap70","Lyn",1),("Zap70","Ptk2b",1),("Zap70","Src",1),("Zap70","Ptk2",1),
 ("Hck","Yes1",2),("Hck","Matk",1),("Hck","Lyn",2),("Hck","Ptk2b",3),("Hck","Src",2),("Hck","Ptk2",3),("Lyn","Yes1",2),("Yes1","Src",2),("Yes1","Matk",1),("Yes1","Erbb3",1),("Lyn","Matk",2),
 ("Lyn","Ptk2b",3),("Lyn","Src",3),("Lyn","Ptk2",3),("Matk","Src",1),("Matk","Erbb3",2),("Matk","Blk",1),("Erbb3","Src",3),("Erbb3","Ptk2",1),("Erbb3","Alk",2),("Alk","Ptk2",1),
 ("Ptk2b","Src",3),("Ptk2b","Ptk2",3),("Src","Ptk2",3),("Ptk2b","Insr",2),("Src","",1),("Src","Prkaca",1),("Ptk2","Prkaca",3),("Prkaca","",3),("Prkaca","Prkg2",1),("Prkaca","Camk4",1)]
D_SCALE = ["#DCDCDC","#D8A9AC","#DB8385","#DC6268","#D93A43","#CC1F2E"]

SPHERE_GREY = ["#5E5E5E","#ABABAB","#D6D6D6","#EFEFEF","#F4F4F4","#C4C4C4"]
SPHERE_BLUE = ["#555F8A","#7883AE","#8A94C2","#9BA4D3","#9AA3D2","#7F88B4"]


def to_px(frame, x, y):
    x0, y0, fx, fy = FRAMES[frame]
    return x0 + x / fx, y0 + y / fy


def smooth(pts, n=14):
    # catmull-rom through the read points
    pts = np.array(pts, dtype=float)
    if len(pts) < 3:
        return pts
    p = np.vstack([2 * pts[0] - pts[1], pts, 2 * pts[-1] - pts[-2]])
    out = []
    for i in range(1, len(p) - 2):
        for t in np.linspace(0, 1, n, endpoint=False):
            out.append(0.5 * (2 * p[i] + (p[i + 1] - p[i - 1]) * t
                              + (2 * p[i - 1] - 5 * p[i] + 4 * p[i + 1] - p[i + 2]) * t ** 2
                              + (3 * p[i] - p[i - 1] - 3 * p[i + 1] + p[i + 2]) * t ** 3))
    out.append(pts[-1])
    return np.array(out)


def taper(ax, xy, w0, w1, color, zorder):
    segs = np.stack([xy[:-1], xy[1:]], axis=1)
    widths = np.linspace(w0, w1, len(segs)) * 0.72
    ax.add_collection(LineCollection(segs, linewidths=widths, colors=color, capstyle="round", zorder=zorder))


def px_axes(fig, l, t, r, b):
    return fig.add_axes([l / W, 1 - b / H, (r - l) / W, (b - t) / H])


def label(ax, x, y, s, size, **kw):
    kw.setdefault("ha", "center")
    kw.setdefault("va", "center")
    kw.setdefault("color", "#111111")
    ax.text(x, y, s, fontsize=size, **kw)


def circles(ax, xs, ys, radii, colors, zorder, **kw):
    df = pd.DataFrame({"x": xs, "y": ys, "r": radii, "c": colors})
    sizes = {r: (1.44 * r) ** 2 for r in df["r"].unique()}
    sns.scatterplot(data=df, x="x", y="y", size="r", sizes=sizes, hue="c", palette={c: c for c in df["c"].unique()},
                    linewidth=0, legend=False, ax=ax, zorder=zorder, **kw)
    ax.set_xlabel("")
    ax.set_ylabel("")


def draw_kinome(ax):
    skeleton = []
    for fr, w0, w1, pts in GREY_BRANCHES:
        xy = smooth([to_px(fr, *p) for p in pts])
        taper(ax, xy, w0 * 1.15, w1 * 1.15, "#C6C6C6", 1)
        skeleton.append(xy)
    for fr, w0, w1, col, pts in BLUE_BRANCHES:
        xy = smooth([to_px(fr, *p) for p in pts])
        taper(ax, xy, w0, w1, col, 2)
        skeleton.append(xy)
    skeleton = np.vstack(skeleton)

    xs, ys, rs, cs = [], [], [], []
    for fr, x, y, r, stat in RED_NODES:
        px, py = to_px(fr, x, y)
        xs.append(px); ys.append(py); rs.append(r)
        cs.append(NODE_PALETTE[5 + int(round(stat / 2 * 5))])
    circles(ax, xs, ys, rs, cs, 3)

    dots_x, dots_y = [], []
    twigs = []
    for fr, rows in (("a", KIN_A), ("b", KIN_B), ("c", KIN_C), ("d", KIN_D)):
        for row in rows:
            name, lx, ly = row[:3]
            px, py = to_px(fr, lx, ly)
            if len(row) == 5:
                dx, dy = to_px(fr, row[3], row[4])
                dots_x.append(dx); dots_y.append(dy)
            label(ax, px, py, name, 8.6, zorder=6, color="#1E1E1E")
            hw = 0.3 * 12 * len(name)
            dist = np.hypot(skeleton[:, 0] - px, skeleton[:, 1] - py)
            nx, ny = skeleton[np.argmin(dist)]
            ex = px - hw if nx < px else px + hw
            if dist.min() < 110:
                twigs.append(((nx, ny), ((nx + ex) / 2, py), (ex, py)))
    for a, b, c in twigs:
        path = Path([a, b, c], [Path.MOVETO, Path.CURVE3, Path.CURVE3])
        ax.add_patch(PathPatch(path, fc="none", ec="#C6C6C6", lw=1.7, zorder=1))
    circles(ax, dots_x, dots_y, [5] * len(dots_x), ["#E0E0E0"] * len(dots_x), 4)

    for fr, s, x, y in GROUP_LABELS:
        px, py = to_px(fr, x, y)
        label(ax, px, py, s, 26, color="#000000", zorder=6)

    # atypical kinases
    px, py = to_px("c", 294, 1011)
    label(ax, px, py, "Atypical Kinases", 18, fontweight="bold", fontstyle="italic", color="#000000")
    for x, y0, y1, leaves in ATYP_TREE:
        vx, vy0 = to_px("c", x, y0)
        _, vy1 = to_px("c", x, y1)
        ax.plot([vx, vx], [vy0, vy1], color="#C6C6C6", lw=1.7, zorder=1)
        for y, xe in leaves:
            hx, hy = to_px("c", xe, y)
            ax.plot([vx, hx], [hy, hy], color="#C6C6C6", lw=1.7, zorder=1)
    for s, x, y in ATYP_LABELS:
        px, py = to_px("c", x, y)
        label(ax, px, py, s, 8.6, color="#1E1E1E")
    for s, x, y in ATYP_GROUPS:
        px, py = to_px("c", x, y)
        label(ax, px, py, s, 12, color="#111111")


def draw_kinome_legend(fig, ax):
    for x0, y1 in ((22, 211), (738, 222), (1186, 222)):
        ax.add_patch(Rectangle((x0, 95), 6.5, y1 - 95, fc="#C8C8C8", ec="none"))
    title = dict(fontweight="bold", fontstyle="italic", ha="left", color="#000000")
    label(ax, 42, 120, "Branch color", 18, **title)
    label(ax, 760, 120, "Node color (mean kinase statistic)", 18, **title)
    label(ax, 1212, 120, "Node size (mean final score)", 18, **title)
    ax.add_patch(Rectangle((42, 167), 19, 18, fc="#A2BCDF", ec="none"))
    label(ax, 75, 161, "Bach2KO vs. Bach2", 16.5, ha="left")
    for x, s in NODE_TICKS:
        label(ax, to_px("b", x, 0)[0], 161, s, 16.5)
    hm = px_axes(fig, 760, 178, 961, 210)
    sns.heatmap(np.arange(11).reshape(1, 11), cmap=ListedColormap(NODE_PALETTE), cbar=False,
                xticklabels=False, yticklabels=False, ax=hm)
    label(ax, 1214, 154, "0", 16.5)
    label(ax, 1406, 150, "4", 16.5)
    cx = [to_px("b", x, 0)[0] for x in NODE_SIZE_X]
    circles(ax, cx, [194] * 6, NODE_SIZE_R, ["#C4C4C4"] * 6, 3)


def draw_treemap(ax):
    def zb(x, y, dx=0.0, dy=0.0):
        return 1540 + x / 1.9075 + dx, y / 1.742 + dy

    for dy, dx in ((0, 0), (818, -2)):
        for _, verts, col in CELLS:
            poly = [zb(*VX[k], dx, dy) for k in verts.split()]
            ax.fill(*zip(*poly), fc=col, ec="#111822", lw=1.1, zorder=2)
    for s, x, y, size in GENE_LABELS:
        px, py = zb(x, y)
        label(ax, px, py + size * 0.13, s, size, color="white", zorder=5)

    def zc(x, y):
        return 1540 + x / 1.9075, 900 + y / 1.742

    for s, x, y, size, rot in PATHWAY_LABELS:
        label(ax, *zc(x, y), s, size, color="white", rotation=rot, zorder=5, linespacing=1.08)
    label(ax, *zc(405, 1335), "Chemokine\nsignaling\npathway", 26, color="#E8B9C8", fontweight="bold", zorder=5, linespacing=1.05)


def draw_lollipops(fig, ax0):
    ax = px_axes(fig, 122, 1959, 943, 2947)
    ax.patch.set_alpha(0)
    df = pd.DataFrame({"pathway": PATHWAYS, "signal": SIGNAL, "count": GENE_COUNT, "level": FDR_LEVEL})
    df["top"] = 2.226
    bands = {p: BAND_COLORS[l] for p, l in zip(PATHWAYS, FDR_LEVEL)}
    stems = {p: FDR_COLORS[l] for p, l in zip(PATHWAYS, FDR_LEVEL)}
    sns.barplot(data=df, x="pathway", y="top", hue="pathway", palette=bands, width=0.92, saturation=1,
                legend=False, ax=ax, zorder=1, linewidth=0)
    sns.barplot(data=df, x="pathway", y="signal", hue="pathway", palette=stems, width=0.155, saturation=1,
                legend=False, ax=ax, zorder=4, linewidth=0)
    for v in Y_TICKS:
        ax.axhline(v, color="#B4B8C6", lw=1.2, ls=(0, (5, 3)), zorder=3)
    edge = ["#B9C7CC" if l < 5 and l == 0 else "#7FA0B4" if l < 5 else "#6A80A8" for l in FDR_LEVEL]
    sizes = {7: (1.44 * 33) ** 2, 5: (1.44 * 26) ** 2, 4: (1.44 * 20) ** 2}
    sns.scatterplot(x=np.arange(10), y=SIGNAL, size=GENE_COUNT, sizes=sizes, c=[FDR_COLORS[l] for l in FDR_LEVEL],
                    edgecolor=edge, linewidth=2.6, legend=False, ax=ax, zorder=5, clip_on=False)
    ax.set_xlim(-0.936, 10.03)
    ax.set_ylim(1.545, 2.226)
    ax.set_xlabel("")
    ax.set_ylabel("")
    ax.set_yticks(Y_TICKS)
    ax.set_yticklabels([f"{v:.1f}" for v in Y_TICKS])
    ax.yaxis.tick_right()
    ax.tick_params(axis="y", length=0, pad=6, labelsize=18, labelcolor="#111111")
    ax.set_xticks(range(10))
    ax.set_xticklabels(PATHWAYS, rotation=90, ha="center", va="top", fontsize=18, ma="right", linespacing=0.95)
    ax.tick_params(axis="x", length=0, pad=7)
    first = ax.get_xticklabels()[0]
    first.set_color("#BE1730")
    first.set_fontweight("bold")
    sns.despine(ax=ax, left=True, bottom=True, right=True, top=True)

    strip = px_axes(fig, 154.6, 1912, 902.6, 1944)
    sns.heatmap(np.array(FDR_LEVEL).reshape(1, 10), cmap=ListedColormap(FDR_COLORS), vmin=0, vmax=5, cbar=False,
                linewidths=3, linecolor="white", xticklabels=False, yticklabels=False, ax=strip)

    # legends
    ax0.add_patch(Rectangle((1024, 1893), 7, 281, fc="#C8C8C8", ec="none"))
    label(ax0, 1042, 1909, "FDR", 18, fontweight="bold", fontstyle="italic", ha="left", color="#000000")
    fdr = px_axes(fig, 1054, 1944, 1082, 2170)
    sns.heatmap(np.arange(6).reshape(6, 1), cmap=ListedColormap(FDR_COLORS), cbar=False, xticklabels=False,
                yticklabels=FDR_LABELS, ax=fdr)
    fdr.yaxis.tick_right()
    fdr.tick_params(axis="y", length=7, width=2.2, color="#111111", right=True, left=False, labelrotation=0,
                    labelsize=17.5, pad=6, labelcolor="#111111")
    label(ax0, 1016, 2423, "Signal", 14.5, rotation=90)
    ax0.add_patch(Rectangle((1028, 2673), 7, 281, fc="#C8C8C8", ec="none"))
    label(ax0, 1048, 2691, "Gene count", 18, fontweight="bold", fontstyle="italic", ha="left", color="#000000")
    for n, yy, r in ((4, 2742, 20), (6, 2810, 29), (7, 2891, 33)):
        ax0.add_patch(Circle((1095, yy), r, fc=FDR_COLORS[0], ec="#B9C7CC", lw=2.6))
        label(ax0, 1145, yy, str(n), 16.5)


def draw_network(fig, ax):
    def zd(x, y):
        return 1250 + x / 1.41, 1850 + y / 1.0116

    pos = {n[0]: zd(n[1], n[2]) for n in D_NODES}
    widths = {1: 7.5, 2: 11, 3: 14}
    alphas = {1: 0.38, 2: 0.55, 3: 0.72}
    for a, b, k in D_EDGES:
        ax.plot(*zip(pos[a], pos[b]), color="#24406E", lw=widths[k] * 0.72, alpha=alphas[k], zorder=2, solid_capstyle="butt")

    ring = LinearSegmentedColormap.from_list("ring", ["#BFC1C2", "#BF9396", "#BF525C", "#C23340"])
    xs = [pos[n[0]][0] for n in D_NODES]
    ys = [pos[n[0]][1] for n in D_NODES]
    cols = [ring((n[3] - 0.5) / 1.5) for n in D_NODES]
    cols = ["#%02x%02x%02x" % tuple(int(c * 255) for c in col[:3]) for col in cols]
    circles(ax, xs, ys, [60] * len(xs), cols, 3, alpha=0.88)

    grey = LinearSegmentedColormap.from_list("g", SPHERE_GREY)
    blue = LinearSegmentedColormap.from_list("b", SPHERE_BLUE)
    grad = np.linspace(0, 1, 80).reshape(-1, 1)
    shine = np.ones((40, 1, 4))
    shine[:, 0, :3] = np.linspace(1.0, 0.72, 40).reshape(-1, 1)
    shine[:, 0, 3] = np.linspace(0.98, 0.55, 40)
    r = 37.5
    for name, _, _, _, isblue in D_NODES:
        x, y = pos[name]
        ax.add_patch(Circle((x, y + 6), r, fc="#2A2530", ec="none", zorder=4))
        im = ax.imshow(grad, cmap=blue if isblue else grey, extent=(x - r, x + r, y + r, y - r), aspect="auto", zorder=5)
        im.set_clip_path(Circle((x, y), r, transform=ax.transData))
        ax.add_patch(Circle((x, y), r + 0.5, fc="none", ec="#26263A", lw=0.9, zorder=5.5, alpha=0.6))
        bx0, bx1, by0, by1 = x - r * 0.6, x + r * 0.6, y - r * 0.86, y - r * 0.32
        hl = ax.imshow(shine, extent=(bx0, bx1, by1, by0), aspect="auto", zorder=6)
        hl.set_clip_path(Ellipse((x, (by0 + by1) / 2), bx1 - bx0, by1 - by0, transform=ax.transData))
    ax.set_xlim(0, W)
    ax.set_ylim(H, 0)

    blues = {n[0] for n in D_NODES if n[4]}
    for s, x, y in D_LABELS:
        if s in blues:
            label(ax, *zd(x, y), s, 15.5, color="#4A57A8", fontweight="bold", zorder=8)
        else:
            label(ax, *zd(x, y), s, 16, color="#111111", zorder=8)

    ax.add_patch(Rectangle((1447, 1890), 6, 126, fc="#C8C8C8", ec="none"))
    label(ax, 1468, 1915, "Circle color (mean kinase statistic)", 18, fontweight="bold", fontstyle="italic", ha="left", color="#000000")
    label(ax, 1492, 1959, "0.5", 16.5)
    label(ax, 1590, 1959, "2", 16.5)
    hm = px_axes(fig, 1483, 1977, 1593, 2008)
    sns.heatmap(np.arange(6).reshape(1, 6), cmap=ListedColormap(D_SCALE), cbar=False, xticklabels=False, yticklabels=False, ax=hm)
    ax.add_patch(Rectangle((1457, 3227), 6, 114, fc="#C8C8C8", ec="none"))
    label(ax, 1477, 3252, "Bubble color", 18, fontweight="bold", fontstyle="italic", ha="left", color="#000000")
    ax.add_patch(Rectangle((1477, 3298), 18, 17, fc="#A2B8DC", ec="none"))
    label(ax, 1510, 3302, "Chemokine signaling pathway", 18, ha="left")


sns.set_theme(style="white")
plt.rcParams["font.family"] = ["Liberation Sans", "DejaVu Sans"]

fig = plt.figure(figsize=(W / 100, H / 100), dpi=100, facecolor="white")
ax = fig.add_axes([0, 0, 1, 1])
ax.set_xlim(0, W)
ax.set_ylim(H, 0)
ax.axis("off")

for s, x, y in (("A", 40, 66), ("B", 1598, 66), ("C", 40, 1954), ("D", 1363, 1954)):
    label(ax, x, y, s, 63, fontweight="bold", color="#1E1A1B", va="baseline")

draw_kinome(ax)
draw_kinome_legend(fig, ax)
draw_treemap(ax)
draw_network(fig, ax)
draw_lollipops(fig, ax)

ax.set_xlim(0, W)
ax.set_ylim(H, 0)
fig.savefig("out.png", dpi=100, facecolor="white")
